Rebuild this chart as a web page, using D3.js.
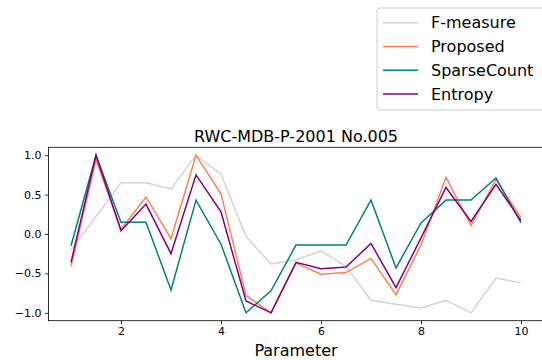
<!DOCTYPE html>
<html>
<head>
<meta charset="utf-8">
<script src="https://cdn.jsdelivr.net/npm/d3@7"></script>
<style>
  body { margin: 0; background: #fff; }
  svg { display: block; font-family: "DejaVu Sans", sans-serif; }
</style>
</head>
<body>
<div id="chart"></div>
<script>
// --- data ---
const params = [1, 1.5, 2, 2.5, 3, 3.5, 4, 4.5, 5, 5.5, 6, 6.5, 7, 7.5, 8, 8.5, 9, 9.5, 10];
const fMeasure = [-0.2, 0.22, 0.65, 0.65, 0.57, 1.0, 0.76, -0.03, -0.38, -0.33, -0.215, -0.41, -0.84, -0.89, -0.94, -0.84, -1.0, -0.56, -0.62];
const proposed = [-0.41, 0.94, 0.06, 0.47, -0.06, 1.0, 0.51, -0.78, -1.0, -0.37, -0.51, -0.49, -0.31, -0.77, -0.14, 0.72, 0.11, 0.69, 0.21];
const sparseCount = [-0.15, 1.0, 0.15, 0.15, -0.71, 0.43, -0.13, -1.0, -0.72, -0.14, -0.14, -0.14, 0.43, -0.43, 0.14, 0.43, 0.43, 0.71, 0.14];
const entropy = [-0.36, 1.0, 0.04, 0.38, -0.25, 0.75, 0.28, -0.85, -1.0, -0.36, -0.44, -0.42, -0.12, -0.68, -0.05, 0.59, 0.16, 0.63, 0.17];
const seriesNames = ['F-measure', 'Proposed', 'SparseCount', 'Entropy'];
const seriesColors = ['#d3d3d3', '#ff7f50', '#008080', '#800080'];
const xTicks = [2, 4, 6, 8, 10];
const yTicks = [-1.0, -0.5, 0.0, 0.5, 1.0];

const series = [fMeasure, proposed, sparseCount, entropy];

// --- sizing ---
const W = 542, H = 360;
const margin = { top: 147.3, left: 48.5, right: -1.5, bottom: 39.3 };
const width = W - margin.left - margin.right;
const height = H - margin.top - margin.bottom;

const svg = d3.select('#chart').append('svg')
  .attr('width', W).attr('height', H);

const x = d3.scaleLinear().domain([0.55, 10.45]).range([0, width]);
const y = d3.scaleLinear().domain([-1.1, 1.1]).range([height, 0]);

const g = svg.append('g')
  .attr('transform', `translate(${margin.left},${margin.top})`);

// lines
const line = d3.line().x((d, i) => x(params[i])).y(d => y(d));
series.forEach((s, k) => {
  g.append('path')
    .datum(s)
    .attr('fill', 'none')
    .attr('stroke', seriesColors[k])
    .attr('stroke-width', 1.5)
    .attr('stroke-linejoin', 'miter')
    .attr('d', line);
});

// axes
const xAxis = g.append('g')
  .attr('transform', `translate(0,${height})`)
  .call(d3.axisBottom(x).tickValues(xTicks).tickSize(3.5).tickPadding(3.5).tickFormat(d3.format('d')));
const yAxis = g.append('g')
  .call(d3.axisLeft(y).tickValues(yTicks).tickSize(3.5).tickPadding(3.5).tickFormat(d3.format('.1f')));
[xAxis, yAxis].forEach(a => {
  a.select('.domain').remove();
  a.selectAll('line').attr('stroke', '#000').attr('stroke-width', 0.8);
  a.selectAll('text').attr('font-size', 11).attr('fill', '#000')
    .attr('font-family', '"DejaVu Sans", sans-serif');
});

// frame
g.append('rect')
  .attr('width', width).attr('height', height)
  .attr('fill', 'none').attr('stroke', '#000').attr('stroke-width', 0.8);

// title and label
g.append('text')
  .attr('x', width / 2).attr('y', -5)
  .attr('text-anchor', 'middle').attr('font-size', 16)
  .text('RWC-MDB-P-2001 No.005');

g.append('text')
  .attr('x', width / 2).attr('y', height + 35)
  .attr('text-anchor', 'middle').attr('font-size', 16)
  .text('Parameter');

// legend
const legend = svg.append('g').attr('transform', 'translate(377,8)');
legend.append('rect')
  .attr('width', 170).attr('height', 102)
  .attr('rx', 3).attr('ry', 3)
  .attr('fill', '#fff').attr('fill-opacity', 0.8)
  .attr('stroke', '#cccccc').attr('stroke-width', 1);
seriesNames.forEach((name, k) => {
  const ly = 14.7 + k * 23.8;
  legend.append('line')
    .attr('x1', 6).attr('x2', 41).attr('y1', ly).attr('y2', ly)
    .attr('stroke', seriesColors[k]).attr('stroke-width', 1.5);
  legend.append('text')
    .attr('x', 54).attr('y', ly).attr('dy', '0.35em')
    .attr('font-size', 16)
    .text(name);
});
</script>
</body>
</html>
